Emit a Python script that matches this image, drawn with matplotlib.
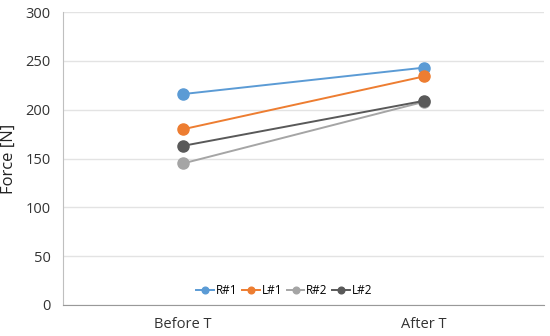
import matplotlib.pyplot as plt

# Force before and after T, per side/trial
categories = ["Before T", "After T"]
series_names = ["R#1", "L#1", "R#2", "L#2"]
r1 = [216, 243]
l1 = [180, 234]
r2 = [145, 208]
l2 = [163, 209]
colors = ["#5b9bd5", "#ed7d31", "#a5a5a5", "#595959"]

plt.rcParams['font.family'] = ['Open Sans', 'DejaVu Sans']

fig = plt.figure(figsize=(5.5, 3.36), dpi=100)
ax = fig.add_axes([63 / 550, 1 - 305 / 336, 481 / 550, 293 / 336])

x = range(len(categories))
for vals, name, c in zip([r1, l1, r2, l2], series_names, colors):
    ax.plot(x, vals, color=c, lw=1.4, marker="o", markersize=8, label=name)

ax.set_xlim(-0.5, 1.5)
ax.set_ylim(0, 300)
ax.set_yticks(range(0, 301, 50))
ax.set_xticks(list(x))
ax.set_xticklabels(categories)
ax.yaxis.grid(True, color="#e3e3e3", lw=1)
ax.set_axisbelow(True)
for s in ["top", "right"]:
    ax.spines[s].set_visible(False)
ax.spines["left"].set_color("#bfbfbf")
ax.spines["bottom"].set_color("#999999")
ax.tick_params(length=0, labelsize=10.5, colors="#333333", pad=9)
ax.set_ylabel("Force [N]", fontsize=12, color="#222222", labelpad=6)

ax.legend(loc="lower center", bbox_to_anchor=(0.46, -0.01), ncol=4, frameon=False,
          fontsize=8.5, handlelength=1.5, handletextpad=0.15, columnspacing=0.4,
          markerscale=0.6)

fig.savefig("out.png", dpi=100)
